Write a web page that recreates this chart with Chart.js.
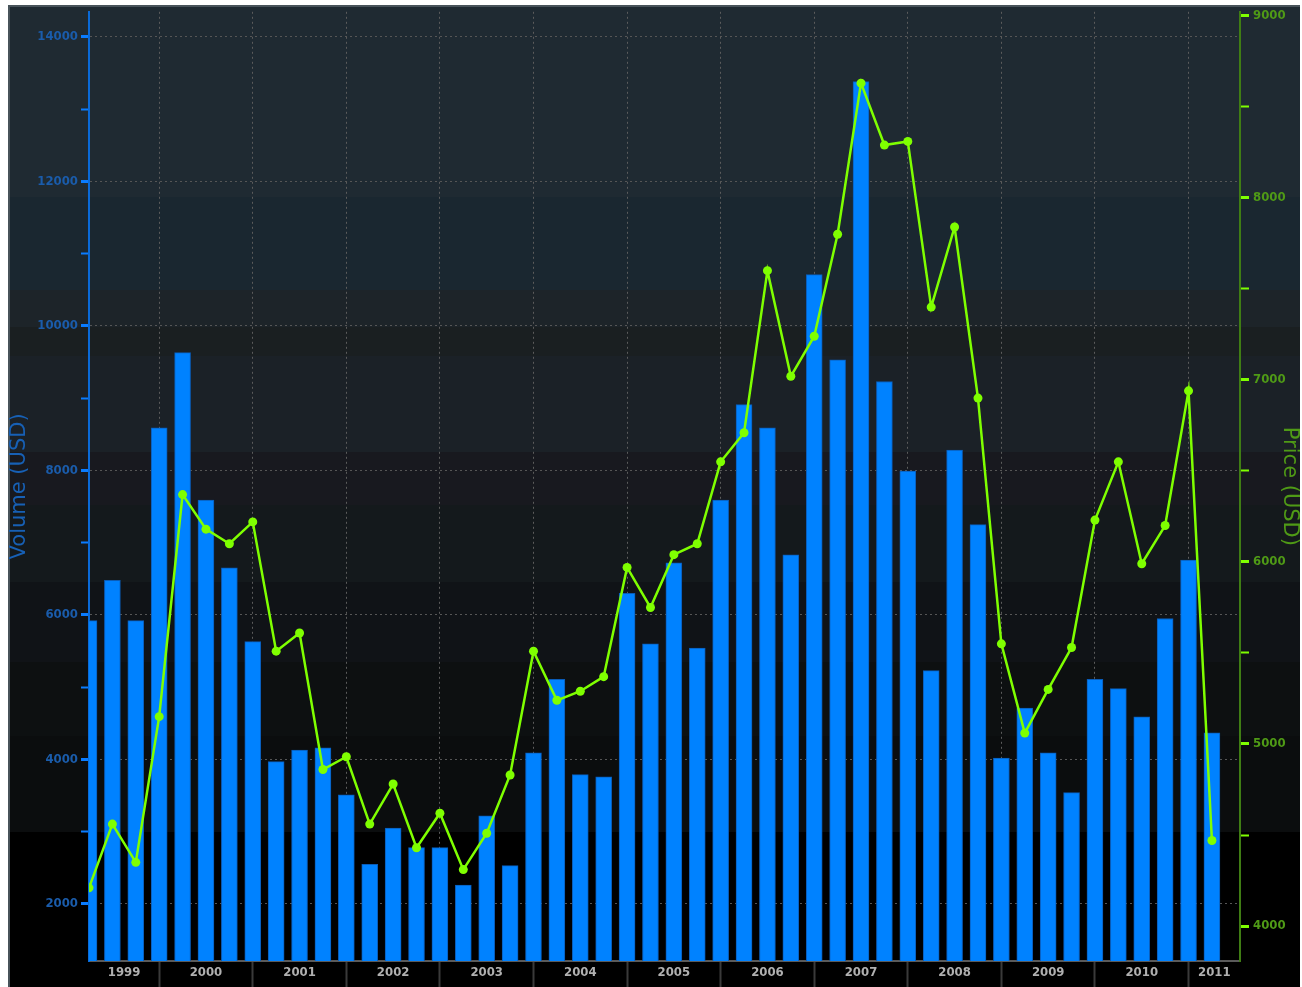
<!DOCTYPE html>
<html>
<head>
<meta charset="utf-8">
<title>Volume vs Price</title>
<script src="https://cdn.jsdelivr.net/npm/chart.js@4.4.1/dist/chart.umd.min.js"></script>
<style>
  html, body { margin: 0; padding: 0; background: #fff; }
  #wrap { position: relative; width: 1302px; height: 987px; }
</style>
</head>
<body>
<div id="wrap"><canvas id="volChart" width="1302" height="987"></canvas></div>
<script>
// quarterly data, 1999 Q1 .. 2011 Q1 (x = quarter index)
const quarters = [
  "1999 Q1", "1999 Q2", "1999 Q3", "1999 Q4",
  "2000 Q1", "2000 Q2", "2000 Q3", "2000 Q4",
  "2001 Q1", "2001 Q2", "2001 Q3", "2001 Q4",
  "2002 Q1", "2002 Q2", "2002 Q3", "2002 Q4",
  "2003 Q1", "2003 Q2", "2003 Q3", "2003 Q4",
  "2004 Q1", "2004 Q2", "2004 Q3", "2004 Q4",
  "2005 Q1", "2005 Q2", "2005 Q3", "2005 Q4",
  "2006 Q1", "2006 Q2", "2006 Q3", "2006 Q4",
  "2007 Q1", "2007 Q2", "2007 Q3", "2007 Q4",
  "2008 Q1", "2008 Q2", "2008 Q3", "2008 Q4",
  "2009 Q1", "2009 Q2", "2009 Q3", "2009 Q4",
  "2010 Q1", "2010 Q2", "2010 Q3", "2010 Q4",
  "2011 Q1"
];

// bars, left axis
const volume = [
  5920, 6480, 5920, 8590, 9630, 7590, 6650, 5630,
  3970, 4130, 4160, 3510, 2550, 3050, 2780, 2780,
  2260, 3220, 2530, 4090, 5110, 3790, 3760, 6300,
  5600, 6720, 5540, 7590, 8910, 8590, 6830, 10710,
  9530, 13380, 9230, 7990, 5230, 8280, 7250, 4020,
  4710, 4090, 3540, 5110, 4980, 4590, 5950, 6760,
  4370
];

// line, right axis
const price = [
  4210, 4560, 4350, 5150, 6370, 6180, 6100, 6220,
  5510, 5610, 4860, 4930, 4560, 4780, 4430, 4620,
  4310, 4510, 4830, 5510, 5240, 5290, 5370, 5970,
  5750, 6040, 6100, 6550, 6710, 7600, 7020, 7240,
  7800, 8630, 8290, 8310, 7400, 7840, 6900, 5550,
  5060, 5300, 5530, 6230, 6550, 5990, 6200, 6940,
  4470
];

const yearLabels = ["1999", "2000", "2001", "2002", "2003", "2004", "2005",
                    "2006", "2007", "2008", "2009", "2010", "2011"];
const yearCenters = [1.5, 5, 9, 13, 17, 21, 25, 29, 33, 37, 41, 45, 48.1];
const yearBreaks = [3, 7, 11, 15, 19, 23, 27, 31, 35, 39, 43, 47];

const leftTicks = [2000, 3000, 4000, 5000, 6000, 7000, 8000, 9000, 10000, 11000, 12000, 13000, 14000];
const rightTicks = [4000, 4500, 5000, 5500, 6000, 6500, 7000, 7500, 8000, 8500, 9000];

const BLUE = "#0082ff";
const GREEN = "#7fff00";
const FONT = "'DejaVu Sans Condensed', 'Liberation Sans Narrow', sans-serif";
const TITLE_FONT = "'DejaVu Sans', sans-serif";

// shaded horizontal bands behind the plot (top to bottom)
const bands = [
  { y0: 7, y1: 197, c: "#1f2a32" },
  { y0: 197, y1: 290, c: "#1a2730" },
  { y0: 290, y1: 327, c: "#1d2429" },
  { y0: 327, y1: 356, c: "#1a1f21" },
  { y0: 356, y1: 452, c: "#1b2127" },
  { y0: 452, y1: 505, c: "#18191f" },
  { y0: 505, y1: 582, c: "#14191c" },
  { y0: 582, y1: 662, c: "#101317" },
  { y0: 662, y1: 736, c: "#0d1011" },
  { y0: 736, y1: 832, c: "#0b0d0e" },
  { y0: 832, y1: 987, c: "#000000" }
];

const bandPlugin = {
  id: "bands",
  beforeDraw(chart) {
    const { ctx, width, height } = chart;
    ctx.save();
    ctx.fillStyle = "#ffffff";
    ctx.fillRect(0, 0, width, height);
    ctx.fillStyle = "#48535a";
    ctx.fillRect(8, 5, width - 10, height - 5);
    bands.forEach(b => {
      ctx.fillStyle = b.c;
      ctx.fillRect(10, b.y0, width - 12, b.y1 - b.y0);
    });
    ctx.restore();
  }
};

const tickVal = c => (c && c.tick ? c.tick.value : NaN);
const isBreak = c => yearBreaks.includes(tickVal(c));
const isMajorLeft = c => tickVal(c) % 2000 === 0;
const isMajorRight = c => tickVal(c) % 1000 === 0;

const ctx = document.getElementById("volChart").getContext("2d");
new Chart(ctx, {
  data: {
    datasets: [
      {
        type: "line",
        label: "Price",
        data: price.map((v, i) => ({ x: i, y: v })),
        yAxisID: "y2",
        borderColor: GREEN,
        borderWidth: 2.5,
        pointRadius: 4.5,
        pointBackgroundColor: GREEN,
        pointBorderWidth: 0,
        tension: 0,
        order: 0
      },
      {
        type: "bar",
        label: "Volume (USD)",
        data: volume.map((v, i) => ({ x: i, y: v })),
        yAxisID: "y",
        backgroundColor: BLUE,
        borderColor: "#0a5cb8",
        borderWidth: 1,
        barThickness: 16,
        order: 1
      }
    ]
  },
  options: {
    responsive: false,
    animation: false,
    layout: { padding: { top: 5, left: 0, right: 0, bottom: 0 } },
    plugins: {
      legend: { display: false },
      tooltip: {
        callbacks: { title: items => quarters[items[0].raw.x] }
      }
    },
    scales: {
      x: {
        type: "linear",
        offset: false,
        min: 0,
        max: 49.2,
        afterBuildTicks: scale => {
          scale.ticks = [...yearBreaks, ...yearCenters]
            .sort((a, b) => a - b)
            .map(v => ({ value: v }));
        },
        afterFit: scale => { scale.height = 26; },
        ticks: {
          autoSkip: false,
          maxRotation: 0,
          padding: -22,
          color: "#b0b0b0",
          font: { family: FONT, size: 13, weight: "bold" },
          callback: v => {
            const k = yearCenters.indexOf(v);
            return k >= 0 ? yearLabels[k] : "";
          }
        },
        grid: {
          offset: false,
          color: c => isBreak(c) ? "#5c5c5c" : "transparent",
          tickColor: c => isBreak(c) ? "#3a3a3a" : "transparent",
          lineWidth: 1,
          tickWidth: 2,
          tickLength: 26,
          tickBorderDash: []
        },
        border: { color: "#5a5a5a", width: 2, dash: [2, 3] }
      },
      y: {
        type: "linear",
        position: "left",
        min: 1211,
        max: 14346,
        afterBuildTicks: scale => { scale.ticks = leftTicks.map(v => ({ value: v })); },
        afterFit: scale => { scale.width = 89; },
        ticks: {
          padding: 3,
          color: "#1a5cab",
          font: { family: FONT, size: 13, weight: "bold" },
          callback: v => v % 2000 === 0 ? String(v) : ""
        },
        grid: {
          color: c => isMajorLeft(c) ? "#565656" : "transparent",
          tickColor: "#0a7cff",
          tickWidth: c => isMajorLeft(c) ? 3 : 2,
          tickLength: 8,
          tickBorderDash: []
        },
        border: { color: "#0a6ad8", width: 2, dash: [2, 3] },
        title: {
          display: true,
          text: "Volume (USD)",
          color: "#1760b5",
          font: { family: TITLE_FONT, size: 21 },
          padding: { top: 7, bottom: 0 }
        }
      },
      y2: {
        type: "linear",
        position: "right",
        min: 3808,
        max: 9022,
        afterBuildTicks: scale => { scale.ticks = rightTicks.map(v => ({ value: v })); },
        afterFit: scale => { scale.width = 62; },
        ticks: {
          padding: 4,
          color: "#4f9a16",
          font: { family: FONT, size: 13, weight: "bold" },
          callback: v => v % 1000 === 0 ? String(v) : ""
        },
        grid: {
          drawOnChartArea: false,
          tickColor: GREEN,
          tickWidth: c => isMajorRight(c) ? 3 : 2,
          tickLength: 9
        },
        border: { color: "#3f7d14", width: 2 },
        title: {
          display: true,
          text: "Price (USD)",
          color: "#4f9a16",
          font: { family: TITLE_FONT, size: 21 },
          padding: { top: 0, bottom: 0 }
        }
      }
    }
  },
  plugins: [bandPlugin]
});
</script>
</body>
</html>
